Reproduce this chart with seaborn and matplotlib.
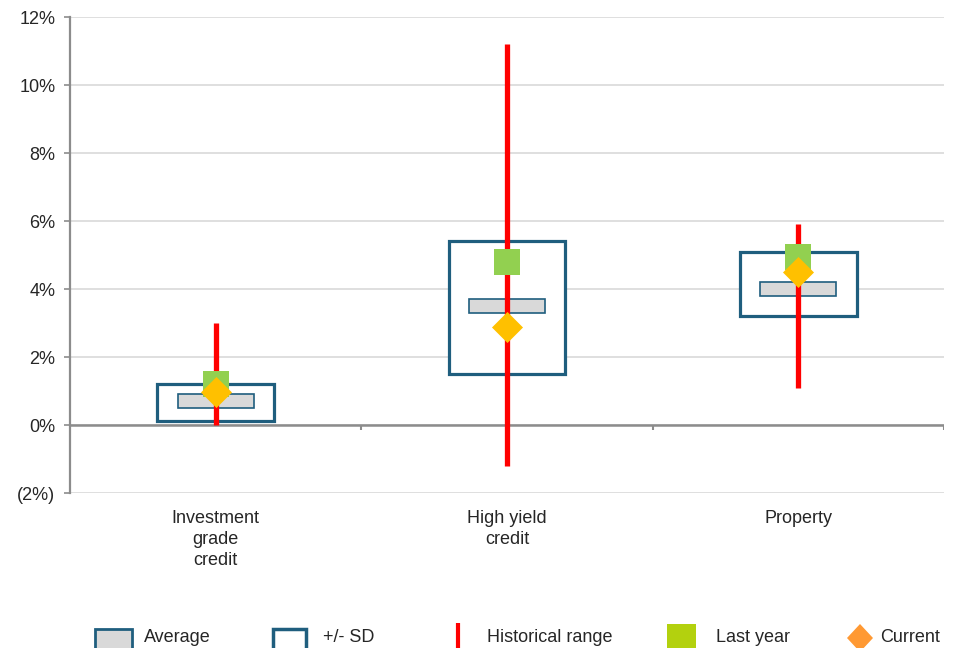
import matplotlib
matplotlib.use("Agg")
import matplotlib.pyplot as plt
from matplotlib.patches import Rectangle, Polygon
import numpy as np
import pandas as pd
import seaborn as sns

# Asset classes and their return statistics (%)
categories = ["Investment\ngrade\ncredit", "High yield\ncredit", "Property"]
sd_low = [0.12, 1.5, 3.2]
sd_high = [1.2, 5.4, 5.1]
average = [0.7, 3.5, 4.0]
hist_low = [0.0, -1.2, 1.1]
hist_high = [3.0, 11.2, 5.9]
last_year = [1.2, 4.8, 4.95]
current = [0.97, 2.88, 4.5]

yticks = [-2, 0, 2, 4, 6, 8, 10, 12]
legend_labels = ["Average", "+/- SD", "Historical range", "Last year", "Current"]

TEAL = "#1F5E7E"
GREY_FILL = "#D9D9D9"
RED = "#FF0000"
GREEN = "#92D050"
GOLD = "#FFC000"
TEXT = "#262626"
FS = 13

sns.set_theme(style="white")
plt.rcParams["font.family"] = ["Liberation Sans", "DejaVu Sans"]

df = pd.DataFrame({
    "category": categories,
    "pos": np.arange(len(categories)),
    "sd_low": sd_low, "sd_high": sd_high, "average": average,
    "hist_low": hist_low, "hist_high": hist_high,
    "last_year": last_year, "current": current,
})

W, H = 958, 648
fig = plt.figure(figsize=(W / 100, H / 100), dpi=100)
ax = fig.add_axes([70 / W, 1 - 493 / H, (944 - 70) / W, (493 - 17) / H])

# gridlines
for t in yticks:
    ax.axhline(t, color="#D9D9D9", lw=1.2, zorder=0)
ax.axhline(0, color="#8C8C8C", lw=1.8, zorder=1)

# +/- SD boxes
ax.bar(df["pos"], df["sd_high"] - df["sd_low"], bottom=df["sd_low"], width=0.4,
       facecolor="white", edgecolor=TEAL, linewidth=2.3, zorder=2)
# average markers (small grey bars centred on the average)
avg_half = 0.21
ax.bar(df["pos"], 2 * avg_half, bottom=df["average"] - avg_half, width=0.26,
       facecolor=GREY_FILL, edgecolor=TEAL, linewidth=1.2, zorder=3)
# historical range
ax.vlines(df["pos"], df["hist_low"], df["hist_high"], color=RED, lw=3.8, zorder=4)

# last year and current values
sns.scatterplot(data=df, x="pos", y="last_year", marker="s", s=350, color=GREEN,
                linewidth=0, ax=ax, zorder=5, legend=False)
sns.scatterplot(data=df, x="pos", y="current", marker="D", s=250, color=GOLD,
                linewidth=0, ax=ax, zorder=6, legend=False)

ax.set_xlim(-0.5, 2.5)
ax.set_ylim(-2, 12)
ax.set_yticks(yticks)
ax.set_yticklabels([f"({abs(t)}%)" if t < 0 else f"{t}%" for t in yticks])
ax.set_xticks(df["pos"])
ax.set_xticklabels(df["category"])
for lab in ax.get_xticklabels():
    lab.set_linespacing(1.32)
ax.set_xlabel("")
ax.set_ylabel("")

for s in ["top", "right", "bottom"]:
    ax.spines[s].set_visible(False)
ax.spines["left"].set_color("#8C8C8C")
ax.spines["left"].set_linewidth(1.6)
ax.tick_params(axis="y", left=True, length=4.5, width=1.2, color="#8C8C8C",
               labelsize=FS, labelcolor=TEXT, pad=6)
ax.tick_params(axis="x", bottom=False, length=0, labelsize=FS, labelcolor=TEXT, pad=12)

# category separators on the zero line
ax.vlines([0.5, 1.5, 2.5], -0.15, 0, color="#8C8C8C", lw=1.5, zorder=1)

# legend drawn in pixel coordinates along the bottom
lg = fig.add_axes([0, 0, 1, 1], zorder=10)
lg.set_xlim(0, W)
lg.set_ylim(H, 0)
lg.axis("off")
ly = 637
lg.add_patch(Rectangle((95, 629), 37, 22, facecolor=GREY_FILL, edgecolor=TEAL, lw=2))
lg.add_patch(Rectangle((273, 629), 33, 22, facecolor="white", edgecolor=TEAL, lw=2.5))
lg.plot([458, 458], [623, 650], color=RED, lw=3, solid_capstyle="butt")
lg.add_patch(Rectangle((667, 624), 29, 28, facecolor="#B3D10E", edgecolor="none"))
lg.add_patch(Polygon([(860, 624), (873, 638), (860, 652), (847, 638)],
                     facecolor="#FF9933", edgecolor="none"))
for xpos, lab in zip([144, 323, 487, 716, 880], legend_labels):
    lg.text(xpos, ly, lab, fontsize=FS, color=TEXT, va="center", ha="left")

fig.savefig("out.png", dpi=100)
